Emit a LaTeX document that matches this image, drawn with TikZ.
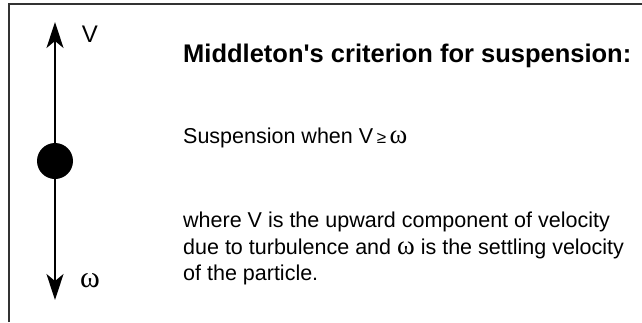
\documentclass[tikz,border=0pt]{standalone}
\usepackage{fontspec}
\setmainfont{Liberation Sans}
\newfontfamily\plainsans[Ligatures=NoCommon]{Liberation Sans}
\newfontfamily\grk[Scale=1.25]{Liberation Serif}
\usetikzlibrary{arrows.meta}
\newcommand{\om}{{\grk ω}}
\newcommand{\sq}{{\plainsans\bfseries\char"0027}}
\begin{document}
\begin{tikzpicture}[x=1pt,y=-1pt,
  frame/.style={line width=1.3pt,draw=black!80},
  vec/.style={line width=1.5pt,-{Stealth[length=26pt,width=17pt,inset=7pt]}},
  ball/.style={circle,fill=black,inner sep=0pt,minimum size=36pt},
  lbl/.style={font=\fontsize{24}{28}\selectfont,inner sep=0pt},
  body/.style={font=\fontsize{21.5}{26}\selectfont,inner sep=0pt,anchor=base west},
  ttl/.style={font=\fontsize{25.5}{30}\selectfont\bfseries,inner sep=0pt,anchor=base west}]
\useasboundingbox (0,0) rectangle (642,322);
\draw[frame] (9,322) -- (9,4) -- (642,4);
\node[ball] (p) at (55,161) {};
\coordinate (up) at (55,22);
\coordinate (dn) at (55,300);
\draw[vec] (p) -- (up);
\draw[vec] (p) -- (dn);
\node[lbl] (v) at (90,34) {V};
\node[lbl] (w) at (90,281) {\om};
\node[ttl] (t) at (183,62) {Middleton\sq s criterion for suspension:};
\node[body] (s) at (183,143) {Suspension when V\,{\fontsize{17}{17}\selectfont ≥}\,\om};
\node[body] (l1) at (183,227) {where V is the upward component of velocity};
\node[body] (l2) at (183,254) {due to turbulence and \om{} is the settling velocity};
\node[body] (l3) at (183,280) {of the particle.};
\end{tikzpicture}
\end{document}
